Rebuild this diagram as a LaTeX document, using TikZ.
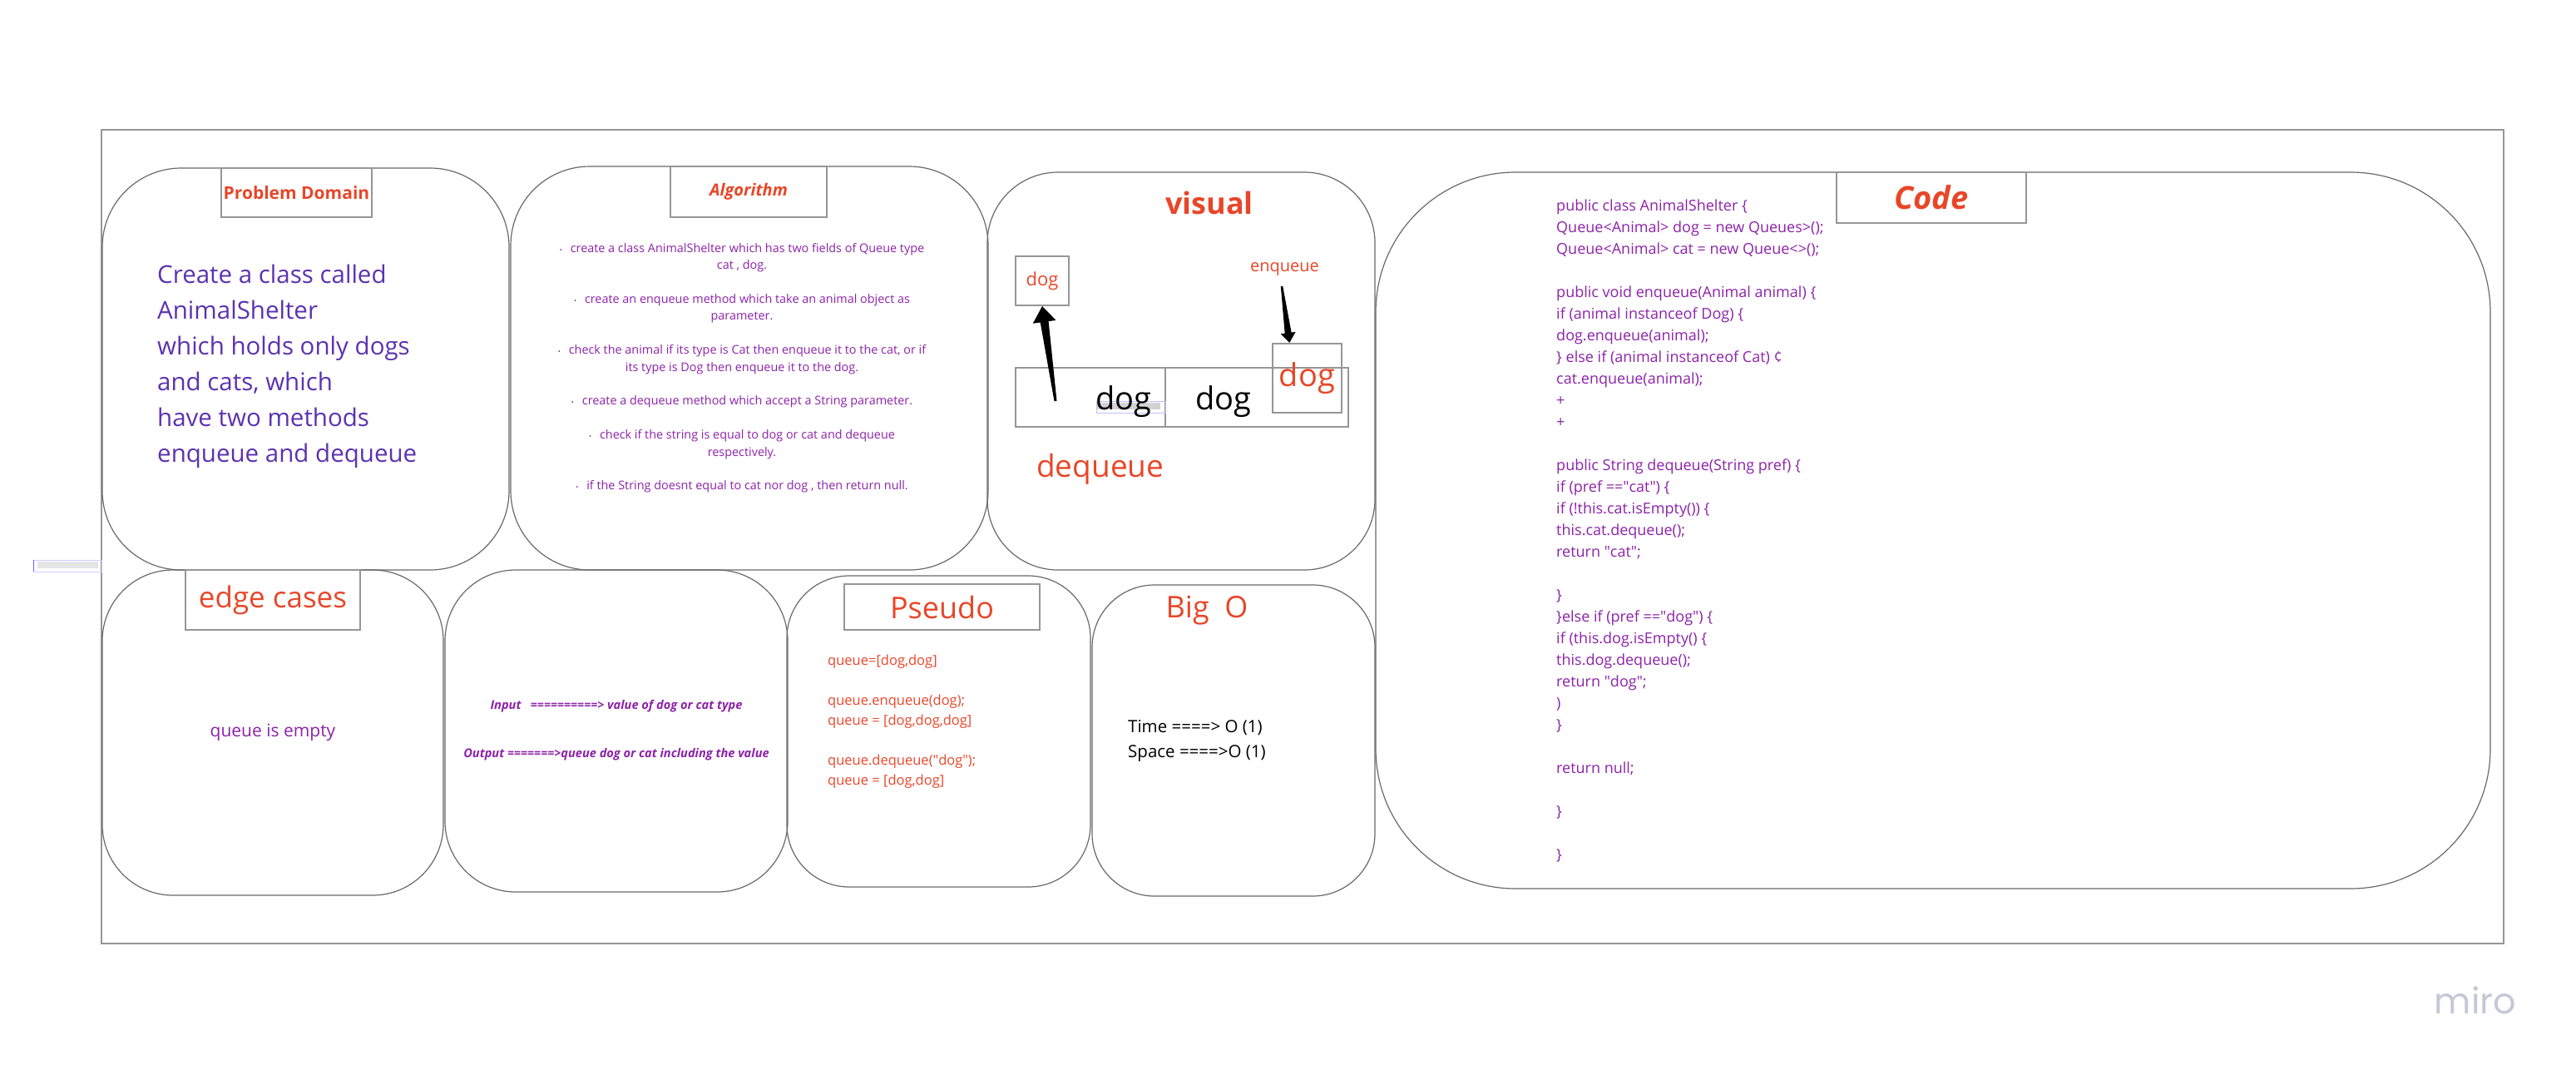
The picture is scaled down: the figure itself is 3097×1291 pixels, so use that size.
\documentclass[tikz,border=0pt]{standalone}
\usepackage{fontspec}
\setmainfont{Open Sans}
\newfontfamily\logofont{Poppins}
\usetikzlibrary{calc}
\definecolor{mirored}{RGB}{232,70,40}
\definecolor{codepurple}{RGB}{140,34,168}
\definecolor{domainpurple}{RGB}{92,50,176}
\definecolor{cardline}{RGB}{105,105,105}
\definecolor{boxline}{RGB}{150,150,150}
\definecolor{logogray}{RGB}{198,199,214}
\newcommand{\fsz}[2]{\fontsize{#1}{#2}\selectfont}
\newcommand{\algdot}{{\fsz{8}{8}•}\hspace{10pt}}
\newcommand{\dq}{\textquotedbl}
\tikzset{
  card/.style={draw=cardline, line width=1.2pt},
  titlebox/.style={draw=boxline, line width=2.5pt, text=mirored, inner sep=0pt},
  qcell/.style={draw=boxline, line width=2pt, inner sep=0pt}
}
\begin{document}
\begin{tikzpicture}[x=1pt,y=-1pt]
\useasboundingbox (0,0) rectangle (3097,1291);
\draw[boxline, line width=2pt] (122,156) rectangle (3010,1134);
\draw[blue!20, line width=1pt] (40,673) rectangle (122,687);
\fill[gray!20] (45,675) rectangle (118,683);
\draw[blue!60, line width=1.5pt] (40.5,673) -- (40.5,687);

\draw[card, rounded corners=95] (123,202) rectangle (612,685);
\draw[card, rounded corners=95] (614,200) rectangle (1188,685);
\draw[card, rounded corners=85] (1187,207) rectangle (1653,685);
\draw[card, rounded corners=168] (1654,207) rectangle (2994,1068);
\draw[card, rounded corners=85] (123,685) rectangle (533,1076);
\draw[card, rounded corners=85] (535,685) rectangle (947,1072);
\draw[card, rounded corners=75] (946,692) rectangle (1311,1066);
\draw[card, rounded corners=75] (1313,703) rectangle (1653,1077);

\node[titlebox, minimum width=181, minimum height=59, font=\bfseries\fsz{21}{25}] (pdtitle) at (356.5,231.5) {Problem Domain};
\node[titlebox, minimum width=188, minimum height=61, font=\bfseries\itshape\fsz{20}{24}] (algtitle) at (900,230.5) {Algorithm};
\node[titlebox, minimum width=228, minimum height=61, font=\bfseries\itshape\fsz{38}{44}] (codetitle) at (2322,237.5) {Code};
\node[titlebox, minimum width=210, minimum height=72, font=\fsz{35}{40}] (edgetitle) at (328,721) {edge cases};
\node[titlebox, minimum width=235, minimum height=55, font=\fsz{36}{40}] (pseudotitle) at (1132.5,729.5) {Pseudo};
\node[text=mirored, font=\fsz{36}{40}, anchor=base] (bigotitle) at (1451,742) {Big\ \ O};
\node[text=mirored, font=\bfseries\fsz{36}{40}, anchor=base] (visualtitle) at (1454,257) {visual};

\node[text=domainpurple, font=\fsz{29.5}{43}, align=left, anchor=north west, inner sep=0pt] (pdtext) at (189,318) {Create a class called\\AnimalShelter\\which holds only dogs\\and cats, which\\have two methods\\enqueue and dequeue};

\node[text=codepurple, font=\fsz{14.4}{20.4}, align=center, anchor=north, inner sep=0pt] (algtext) at (892,292) {\algdot create a class AnimalShelter which has two fields of Queue type\\cat , dog.\\[20.4pt]
\algdot create an enqueue method which take an animal object as\\parameter.\\[20.4pt]
\algdot check the animal if its type is Cat then enqueue it to the cat, or if\\its type is Dog then enqueue it to the dog.\\[20.4pt]
\algdot create a dequeue method which accept a String parameter.\\[20.4pt]
\algdot check if the string is equal to dog or cat and dequeue\\respectively.\\[20.4pt]
\algdot if the String doesnt equal to cat nor dog , then return null.};

\node[text=codepurple, font=\fsz{18}{26}, align=left, anchor=north west, inner sep=0pt] (codetext) at (1871,240) {public class AnimalShelter \{\\
Queue<Animal> dog = new Queues>();\\
Queue<Animal> cat = new Queue<>();\\[26pt]
public void enqueue(Animal animal) \{\\
if (animal instanceof Dog) \{\\
dog.enqueue(animal);\\
\} else if (animal instanceof Cat) ¢\\
cat.enqueue(animal);\\
+\\
+\\[26pt]
public String dequeue(String pref) \{\\
if (pref ==\dq cat\dq) \{\\
if (!this.cat.isEmpty()) \{\\
this.cat.dequeue();\\
return \dq cat\dq;\\[26pt]
\}\\
\}else if (pref ==\dq dog\dq) \{\\
if (this.dog.isEmpty() \{\\
this.dog.dequeue();\\
return \dq dog\dq;\\
)\\
\}\\[26pt]
return null;\\[26pt]
\}\\[26pt]
\}};

\node[text=codepurple, font=\fsz{21}{25}] (edgetext) at (328,880) {queue is empty};
\node[text=codepurple, font=\bfseries\itshape\fsz{14.6}{58}, align=center] (iotext) at (741,878) {Input\ \ \ ==========> value of dog or cat type\\Output =======>queue dog or cat including the value};
\node[text=mirored, font=\fsz{16.5}{24}, align=left, anchor=north west, inner sep=0pt] (pseudotext) at (995,787) {queue=[dog,dog]\\[24pt]queue.enqueue(dog);\\queue = [dog,dog,dog]\\[24pt]queue.dequeue(\dq dog\dq);\\queue = [dog,dog]};
\node[font=\fsz{20.5}{30}, align=left, anchor=north west, inner sep=0pt] (bigotext) at (1356,865) {Time ====> O (1)\\Space ====>O (1)};

\node[qcell, minimum width=180, minimum height=71] (qfront) at (1311,477.5) {};
\node[qcell, minimum width=220, minimum height=71] (qback) at (1511,477.5) {};
\draw[blue!25, line width=1pt] (1318,482) rectangle (1401,496);
\fill[gray!35] (1319,484) rectangle (1395,492);
\node[font=\fsz{38}{44}, anchor=base] (dogfront) at (1351,492) {dog};
\node[font=\fsz{38}{44}, anchor=base] (dogback) at (1471,492) {dog};
\node[qcell, text=mirored, font=\fsz{38}{44}, minimum size=83] (dognew) at (1571.5,454.5) {dog};
\node[qcell, text=mirored, font=\fsz{22}{26}, minimum width=64, minimum height=59] (dogout) at (1253,337.5) {dog};
\node[text=mirored, font=\fsz{20}{24}] (enqlabel) at (1544.5,323) {enqueue};
\node[text=mirored, font=\fsz{37}{42}, anchor=base west, inner sep=0pt] (deqlabel) at (1246,573) {dequeue};

\coordinate (deqtail) at (1269,482);
\coordinate (deqhead) at ($(dogout.south)!19pt!(deqtail)$);
\fill ($(deqtail)!1.5pt!90:(dogout.south)$) -- ($(deqhead)!5pt!90:(dogout.south)$) -- ($(deqhead)!14pt!90:(dogout.south)$) -- (dogout.south) -- ($(deqhead)!14pt!-90:(dogout.south)$) -- ($(deqhead)!5pt!-90:(dogout.south)$) -- ($(deqtail)!1.5pt!-90:(dogout.south)$) -- cycle;
\coordinate (enqtail) at (1541,344);
\coordinate (enqtip) at ($(dognew.north west)!0.25!(dognew.north east)$);
\coordinate (enqhead) at ($(enqtip)!12pt!(enqtail)$);
\fill ($(enqtail)!1.2pt!90:(enqtip)$) -- ($(enqhead)!4pt!90:(enqtip)$) -- ($(enqhead)!9pt!90:(enqtip)$) -- (enqtip) -- ($(enqhead)!9pt!-90:(enqtip)$) -- ($(enqhead)!4pt!-90:(enqtip)$) -- ($(enqtail)!1.2pt!-90:(enqtip)$) -- cycle;

\node[text=logogray, font=\logofont\fsz{43}{48}, anchor=base] (mirologo) at (2976,1218) {miro};
\end{tikzpicture}
\end{document}
